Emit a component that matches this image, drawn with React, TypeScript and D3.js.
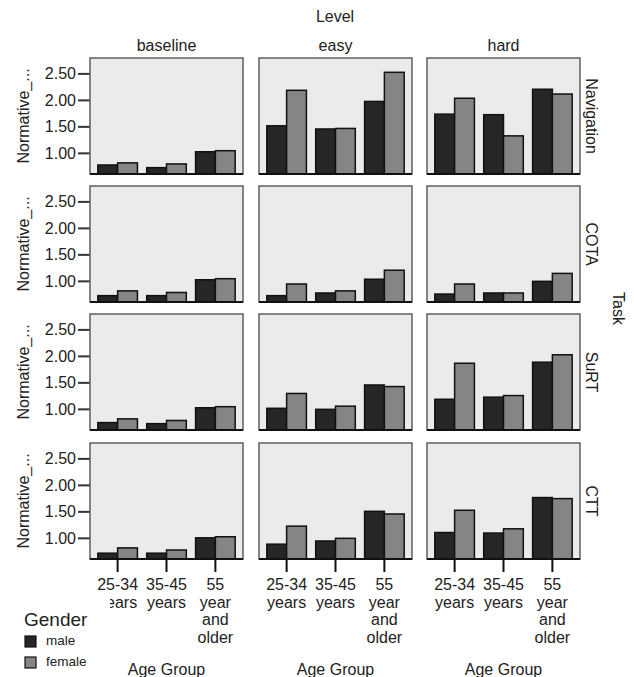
import React from "react";
import * as d3 from "d3";

const levels = ["baseline", "easy", "hard"];
const tasks = ["Navigation", "COTA", "SuRT", "CTT"];
const ageGroups = ["25-34 years", "35-45 years", "55 year and older"];
const ageLabelLines = [["25-34", "years"], ["35-45", "years"], ["55", "year", "and", "older"]];
const genders = ["male", "female"];
const yTicks = [1.0, 1.5, 2.0, 2.5];

// [task][level][ageGroup]
const maleValues = [
  [[0.78, 0.73, 1.03], [1.52, 1.46, 1.98], [1.74, 1.73, 2.21]],
  [[0.73, 0.73, 1.03], [0.73, 0.78, 1.04], [0.76, 0.78, 1.0]],
  [[0.75, 0.73, 1.03], [1.02, 1.0, 1.46], [1.19, 1.23, 1.89]],
  [[0.72, 0.72, 1.01], [0.89, 0.95, 1.51], [1.11, 1.1, 1.77]],
];
const femaleValues = [
  [[0.82, 0.8, 1.05], [2.19, 1.47, 2.53], [2.04, 1.33, 2.12]],
  [[0.82, 0.79, 1.05], [0.95, 0.82, 1.21], [0.95, 0.78, 1.15]],
  [[0.82, 0.79, 1.05], [1.3, 1.06, 1.43], [1.87, 1.26, 2.03]],
  [[0.82, 0.78, 1.03], [1.23, 1.0, 1.46], [1.53, 1.18, 1.75]],
];

const W = 634;
const H = 677;
const colX = [90, 259, 427];
const panelW = 153;
const rowY = [58, 186, 314, 443];
const panelH = 116;
const FONT = "'Liberation Sans', Arial, sans-serif";
const colors = ["#262626", "#858585"];
const textColor = "#222";

export default function App() {
  const x = d3.scaleBand<string>().domain(ageGroups).range([0, panelW]).paddingInner(0.19).paddingOuter(0.16);
  const xg = d3.scaleBand<string>().domain(genders).range([0, x.bandwidth()]);
  const y = d3.scaleLinear().domain([0.61, 2.8]).range([panelH, 0]);
  const fmt = d3.format(".2f");
  const gridBottom = rowY[3] + panelH;

  return (
    <svg width={W} height={H} style={{ position: "absolute", left: 0, top: 0, background: "#fff" }} fontFamily={FONT}>
      <text x={(colX[0] + colX[2] + panelW) / 2} y={22} textAnchor="middle" fontSize={16} fill={textColor}>Level</text>
      {levels.map((lv, c) => (
        <text key={lv} x={colX[c] + panelW / 2} y={51} textAnchor="middle" fontSize={16} fill={textColor}>{lv}</text>
      ))}
      {tasks.map((task, r) => (
        <g key={task}>
          <text transform={`translate(591,${rowY[r] + panelH / 2}) rotate(90)`} textAnchor="middle" dominantBaseline="central" fontSize={16} fill={textColor}>{task}</text>
          <text transform={`translate(23,${rowY[r] + panelH / 2}) rotate(-90)`} textAnchor="middle" dominantBaseline="central" fontSize={16} fill={textColor}>Normative_...</text>
          <g transform={`translate(${colX[0]},${rowY[r]})`}>
            {yTicks.map((t) => (
              <g key={t} transform={`translate(0,${y(t)})`}>
                <line x1={-12} x2={0} stroke="#333" strokeWidth={2} />
                <text x={-14} dy="0.35em" textAnchor="end" fontSize={16} fill={textColor}>{fmt(t)}</text>
              </g>
            ))}
          </g>
          {levels.map((lv, c) => (
            <g key={lv} transform={`translate(${colX[c]},${rowY[r]})`}>
              <rect x={0} y={0} width={panelW} height={panelH} fill="#ebebeb" stroke="#5f5f5f" strokeWidth={1.5} />
              {ageGroups.map((ag, a) =>
                genders.map((g, gi) => {
                  const v = (gi === 0 ? maleValues : femaleValues)[r][c][a];
                  const bx = (x(ag) ?? 0) + (xg(g) ?? 0);
                  return (
                    <rect key={ag + g} x={bx} y={y(v)} width={xg.bandwidth()} height={panelH - y(v)} fill={colors[gi]} stroke="#111" strokeWidth={1.5} />
                  );
                })
              )}
              <line x1={0} x2={panelW} y1={panelH} y2={panelH} stroke="#111" strokeWidth={2} />
            </g>
          ))}
        </g>
      ))}
      {levels.map((lv, c) => (
        <g key={lv} transform={`translate(${colX[c]},${gridBottom})`}>
          {ageGroups.map((ag, a) => {
            const cx = (x(ag) ?? 0) + x.bandwidth() / 2;
            return (
              <g key={ag}>
                <line x1={cx} x2={cx} y1={0} y2={13} stroke="#111" strokeWidth={2} />
                <text x={cx} y={31} textAnchor="middle" fontSize={16} fill={textColor}>
                  {ageLabelLines[a].map((ln, i) => (
                    <tspan key={i} x={cx} dy={i === 0 ? 0 : 17.5}>{ln}</tspan>
                  ))}
                </text>
              </g>
            );
          })}
          <text x={panelW / 2} y={116} textAnchor="middle" fontSize={16} fill={textColor}>Age Group</text>
        </g>
      ))}
      <text transform={`translate(618,${(rowY[0] + gridBottom) / 2}) rotate(90)`} textAnchor="middle" dominantBaseline="central" fontSize={16} fill={textColor}>Task</text>
      <g>
        <rect x={0} y={596} width={110} height={81} fill="#fff" />
        <text x={24} y={626} fontSize={19} fill={textColor}>Gender</text>
        {genders.map((g, gi) => (
          <g key={g} transform={`translate(25,${636 + gi * 21})`}>
            <rect x={0} y={0} width={11} height={11} fill={colors[gi]} stroke="#111" strokeWidth={1.2} />
            <text x={21} y={9} fontSize={13.5} fill={textColor}>{g}</text>
          </g>
        ))}
      </g>
    </svg>
  );
}
